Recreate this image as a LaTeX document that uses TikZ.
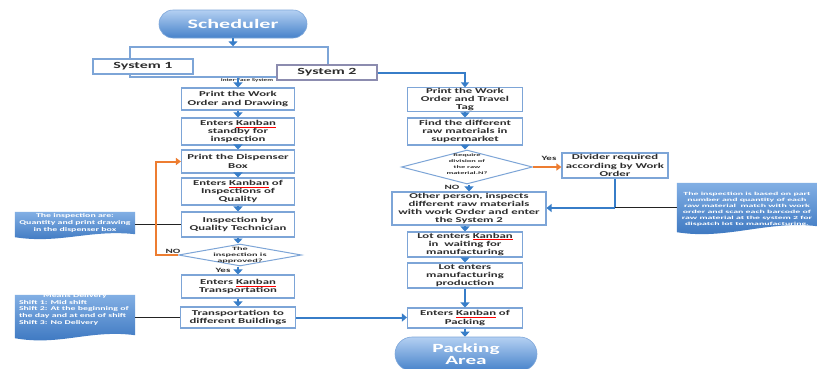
\documentclass[tikz,border=0pt]{standalone}
\usepackage{fontspec}
\setmainfont[FakeStretch=1.7]{Carlito}
\newfontfamily\widefont[FakeStretch=2.1]{Carlito}
\usetikzlibrary{arrows.meta,shapes.geometric,calc}
\definecolor{boxblue}{RGB}{125,165,215}
\definecolor{sysgray}{RGB}{140,140,175}
\definecolor{arrblue}{RGB}{55,125,200}
\definecolor{orng}{RGB}{237,125,49}
\definecolor{txt}{RGB}{45,45,45}
\definecolor{notetop}{RGB}{130,175,228}
\definecolor{notebot}{RGB}{55,115,190}
\definecolor{termtop}{RGB}{180,208,242}
\definecolor{termbot}{RGB}{70,130,202}
\definecolor{blkc}{RGB}{35,35,35}
\newcommand\kb{\textcolor{red}{\underline{\textcolor{txt}{Kanban}}}}
\newcommand\bxf{\fontsize{7.5}{8.3}\selectfont\bfseries}
\begin{document}
\begin{tikzpicture}[x=1pt,y=-1pt,
  box/.style={draw=boxblue, line width=1.1pt, fill=white, align=center, text=txt, font=\bxf, inner sep=0pt, minimum width=113pt},
  sysbox/.style={fill=white, line width=1.2pt, minimum width=100pt, minimum height=15pt, inner sep=0pt, text=txt, font=\fontsize{9.4}{10}\selectfont\bfseries},
  dia/.style={diamond, draw=boxblue, line width=1pt, fill=white, inner sep=0pt},
  diat/.style={align=center, text=txt, font=\widefont\fontsize{4.9}{5.7}\selectfont\bfseries, inner sep=0pt},
  term/.style={rounded corners=14pt, top color=termtop, bottom color=termbot, draw=termbot!70, line width=0.6pt, text=white, align=center, font=\fontsize{13}{14}\selectfont\bfseries, inner sep=0pt},
  notebox/.style={inner sep=0pt},
  notetxt/.style={text=white, align=center, inner sep=0pt, font=\fontsize{5.8}{7}\selectfont\bfseries},
  arr/.style={draw=arrblue, line width=2.6pt, -{Triangle[width=9pt,length=5pt]}},
  conn/.style={draw=arrblue, line width=2pt, -{Triangle[width=8pt,length=5pt]}},
  connplain/.style={draw=arrblue, line width=2pt},
  orarr/.style={draw=orng, line width=2pt, -{Triangle[width=7pt,length=5pt]}},
  blkln/.style={draw=blkc, line width=1.5pt},
  lbl/.style={text=txt, inner sep=0pt, font=\fontsize{6.5}{7}\selectfont\bfseries}
]
\path[use as bounding box] (0,0) rectangle (817,368);
\clip (0,0) rectangle (817,368);
\fill[white] (0,0) rectangle (817,368);

% top
\node[term, minimum width=148pt, minimum height=28pt] (S) at (233,24) {Scheduler};
\node[draw=boxblue, line width=1.4pt, minimum width=198pt, minimum height=30pt, inner sep=0pt] (IF) at (229,62) {};
\node[sysbox, draw=boxblue] (Sys1) at (143,66.5) {System 1};
\node[sysbox, draw=sysgray] (Sys2) at (327,72.5) {System 2};
\node[text=txt, inner sep=0pt, font=\fontsize{4.2}{5}\selectfont\bfseries] (IFL) at (247,80) {Inter-Face System};

% left column
\node[box, minimum height=22pt] (L1) at (238,99) {Print the Work\\Order and Drawing};
\node[box, minimum height=27pt] (L2) at (238,131.5) {Enters \kb\\standby for\\inspection};
\node[box, minimum height=23pt] (L3) at (238,161.5) {Print the Dispenser\\Box};
\node[box, minimum height=27pt] (L4) at (238,191.5) {Enters \kb{} of\\Inspections of\\Quality};
\node[box, minimum height=25pt] (L5) at (238,224.5) {Inspection by\\Quality Technician};
\node[dia, minimum width=123pt, minimum height=22pt] (D1) at (240,255) {};
\node[diat] (D1t) at (240,255) {The\\inspection is\\approved?};
\node[box, minimum height=23pt] (L6) at (238,286.5) {Enters \kb\\Transportation};
\node[box, minimum width=115pt, minimum height=21pt] (L7) at (238,317.5) {Transportation to\\different Buildings};

% right column
\node[box, minimum width=115pt, minimum height=22pt] (R1) at (465,99.5) {Print the Work\\Order and Travel\\Tag};
\node[box, minimum width=115pt, minimum height=27pt] (R2) at (465,131.5) {Find the different\\raw materials in\\supermarket};
\node[dia, minimum width=131pt, minimum height=34pt] (D2) at (467,167) {};
\node[diat, font=\widefont\fontsize{4}{6}\selectfont\bfseries] (D2t) at (467,164) {Require\\division of\\the raw\\material.N?};
\node[box, minimum width=154pt, minimum height=33pt] (R3) at (469,208.5) {Other person, inspects\\different raw materials\\with work Order and enter\\the System 2};
\node[box, minimum width=115pt, minimum height=25pt] (R4) at (465,244.5) {Lot enters \kb\\in\ \ waiting for\\manufacturing};
\node[box, minimum width=115pt, minimum height=25pt] (R5) at (465,275.5) {Lot enters\\manufacturing\\production};
\node[box, minimum width=115pt, minimum height=20pt] (R6) at (465,318) {Enters \kb{} of\\Packing};
\node[term, rounded corners=17pt, minimum width=142pt, minimum height=34pt, font=\fontsize{12.5}{12}\selectfont\bfseries] (PA) at (466,354) {Packing\\Area};

\node[box, minimum width=106pt, minimum height=25pt] (DV) at (615,165.5) {Divider required\\according by Work\\Order};

% notes
\node[notebox, minimum width=120pt, minimum height=25pt] (N1) at (75,224.5) {};
\shade[top color=notetop, bottom color=notebot] (N1.north west) -- (N1.north east) -- ($(N1.south east)+(0,-3)$) .. controls +(-45,-5) and +(45,7) .. (N1.south west) -- cycle;
\node[notetxt] (N1t) at (75,223) {The inspection are:\\Quantity and print drawing\\in the dispenser box};

\node[notebox, minimum width=120pt, minimum height=43pt] (N2) at (75,316.5) {};
\shade[top color=notetop, bottom color=notebot] (N2.north west) -- (N2.north east) -- ($(N2.south east)+(0,-3)$) .. controls +(-45,-6) and +(45,8) .. (N2.south west) -- cycle;
\node[notetxt, anchor=north, align=left, font=\fontsize{5.8}{6.6}\selectfont\bfseries] (N2t) at (75,293.5) {\makebox[112pt]{Means Delivery}\\Shift 1: Mid shift\\Shift 2: At the beginning of\\the day and at end of shift\\Shift 3: No Delivery};

\node[notebox, minimum width=140pt, minimum height=49pt] (N3) at (747,207.5) {};
\shade[top color=notetop, bottom color=notebot] (N3.north west) -- (N3.north east) -- ($(N3.south east)+(0,-6)$) .. controls +(-50,-6) and +(50,8) .. (N3.south west) -- cycle;
\node[notetxt, font=\widefont\fontsize{4.7}{5.9}\selectfont\bfseries] (N3t) at (747,209) {The inspection is based on part\\number and quantity of each\\raw material\ \ match with work\\order and scan each barcode of\\raw material at the system 2 for\\dispatch lot to manufacturing.};

% connectors
\draw[arr] (S.south) -- (S.south |- IF.north);
\draw[arr] (IF.south -| L1.north) -- (L1.north);
\draw[arr] (L1.south) -- (L2.north);
\draw[arr] (L2.south) -- (L3.north);
\draw[arr] (L3.south) -- (L4.north);
\draw[arr] (L4.south) -- (L5.north);
\draw[arr] (L5.south) -- (L5.south |- D1.north);
\draw[arr] (D1.south -| L6.north) -- (L6.north);
\draw[arr] (L6.south) -- (L7.north);

\draw[conn] (Sys2.east) -| (R1.north);
\draw[arr] (R1.south) -- (R2.north);
\draw[arr] (R2.south) -- (R2.south |- D2.north);
\draw[arr] (D2.south -| R3.north) -- (R3.north);
\draw[arr] (R3.south -| R4.north) -- (R4.north);
\draw[arr] (R4.south) -- (R5.north);
\draw[arr] (R5.south) -- (R6.north);
\draw[arr] (R6.south) -- (R6.south |- PA.north);

\draw[blkln] (N1.east) -- (N1.east -| L5.west);
\draw[blkln] (N2.east |- L7.west) -- (L7.west);
\draw[orarr] (D1.west) -- ++(-22,0) |- (L3.west);
\node[lbl] (NO1) at (173,251) {NO};
\node[lbl] (YES1) at (223,270.5) {Yes};

\draw[orarr] (D2.east) -- (D2.east -| DV.west);
\node[lbl] (YES2) at (549,158) {Yes};
\node[lbl] (NO2) at (452,187) {NO};

\coordinate (J) at (615,208);
\draw[connplain] (DV.south) -- (J);
\draw[conn] (J) -- (J -| R3.east);
\draw[blkln] (N3.west) -- (N3.west -| J);

\draw[conn] (L7.east) -- (L7.east -| R6.west);
\end{tikzpicture}
\end{document}
